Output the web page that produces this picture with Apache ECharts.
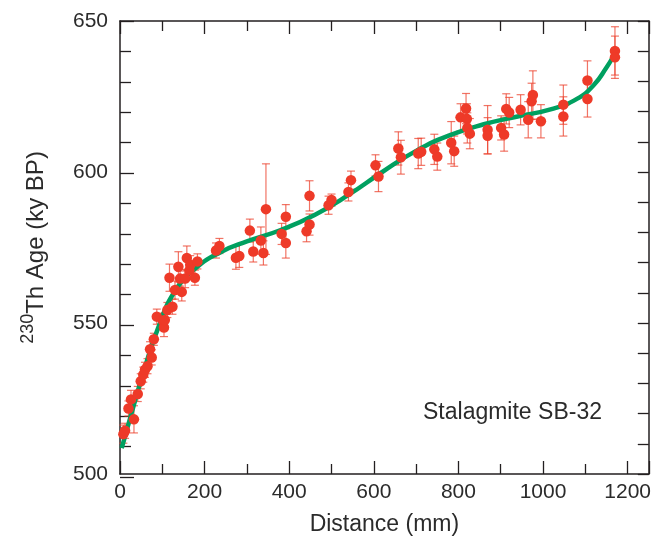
<!DOCTYPE html>
<html>
<head>
<meta charset="utf-8">
<script src="https://cdn.jsdelivr.net/npm/echarts@6/dist/echarts.min.js"></script>
<style>
html,body{margin:0;padding:0;background:#fff;}
#chart{width:654px;height:541px;}
</style>
</head>
<body>
<div id="chart"></div>
<script>
// Measured U-Th dates along the stalagmite growth axis
const distance = [8, 12, 20, 26, 33, 42, 49, 55, 59, 65, 71, 75, 80, 87, 102, 104, 106, 112, 117, 124, 130, 138, 142, 146, 154, 158, 164, 166, 177, 183,
  227, 235, 274, 282, 307, 315, 333, 339, 345, 382, 392, 392, 441, 448, 448, 493, 500, 540, 546, 604, 611,
  658, 664, 705, 712, 743, 750, 783, 790, 805, 818, 820, 821, 827, 869, 869, 901, 908, 913, 920, 947, 965, 973, 976, 995,
  1048, 1048, 1105, 1105, 1170, 1170];
const age = [513.2, 514.3, 521.7, 524.7, 518.1, 526.5, 530.7, 532.9, 534.5, 535.7, 541.3, 538.6, 544.6, 552.1, 550.7, 548.5, 551.0, 554.3, 565.0, 555.4, 560.9, 568.6, 564.7, 560.3, 564.7, 571.5, 567.4, 569.3, 565.0, 570.4,
  574.0, 575.5, 571.6, 572.2, 580.6, 573.7, 577.3, 573.2, 587.7, 579.5, 585.2, 576.5, 580.4, 582.6, 592.1, 589.0, 590.7, 593.4, 597.3, 602.2, 598.5,
  607.8, 604.9, 606.1, 606.7, 607.5, 605.1, 609.7, 606.9, 618.1, 621.0, 617.6, 614.6, 612.7, 614.0, 612.0, 614.6, 612.4, 620.9, 619.7, 620.6, 617.3, 623.4, 625.5, 616.8,
  622.3, 618.4, 630.3, 624.2, 640.1, 638.0];
const ageErr = [3, 2.5, 2.5, 3, 4.5, 2.5, 2.5, 2.5, 2.5, 2.5, 2.5, 2.5, 2, 2.5, 2.5, 3, 2.5, 2.5, 4.5, 2.5, 3, 5, 2.5, 3, 3, 4, 3, 3, 2.5, 2.5,
  2.5, 2.5, 3.8, 3.8, 3.8, 3.5, 4.5, 4, 15, 3.5, 4, 5, 3.5, 3.5, 5, 3, 2, 3, 3, 3.5, 5,
  5.5, 5.6, 5, 4.5, 5, 4.5, 7, 5, 4.5, 5, 5, 5, 5, 8, 6, 4, 5.5, 5, 5, 5, 6, 6, 8, 5.5,
  6.5, 6.5, 6.5, 6, 8, 7];
// Age model curve
const curveDist = [4, 28, 55, 90, 130, 180, 240, 300, 380, 460, 540, 620, 700, 780, 860, 940, 1020, 1080, 1120, 1150, 1165];
const curveAge = [508.6, 520.5, 533.5, 548.3, 560.6, 568.3, 573.6, 577.0, 580.8, 585.8, 592.4, 600.0, 607.0, 612.2, 615.8, 618.4, 620.8, 624.2, 628.8, 634.6, 638.0];
const xTicks = [0, 200, 400, 600, 800, 1000, 1200];
const yTicks = [500, 550, 600, 650];

const pts = distance.map((d, i) => [d, age[i], ageErr[i]]);
const curve = curveDist.map((d, i) => [d, curveAge[i]]);

const axisCol = '#231f20';
const labelCol = '#2b2b2b';
const font = 'Liberation Sans, Arial, sans-serif';
const gridLeft = 120, gridRight = 5, gridTop = 21, gridBottom = 64;

function tickCfg(len, inside) { return {show: true, inside: inside, length: len, lineStyle: {color: axisCol, width: 1.3}}; }
function minorCfg(n, len) { return {show: true, splitNumber: n, length: len, lineStyle: {color: axisCol, width: 1.3}}; }
function lineCfg() { return {show: true, onZero: false, lineStyle: {color: axisCol, width: 1.5}}; }

const chart = echarts.init(document.getElementById('chart'), null, {renderer: 'canvas'});
chart.setOption({
  animation: false,
  backgroundColor: '#fff',
  grid: [
    {left: gridLeft, right: gridRight, top: gridTop, bottom: gridBottom, containLabel: false},
    // helper grid sharing the plot rectangle; carries the inward tick marks of the left frame edge
    {left: gridLeft, right: gridRight, top: gridTop, bottom: gridBottom, containLabel: false}
  ],
  xAxis: [
    {
      type: 'value', min: 0, max: 1250, interval: 200, position: 'bottom',
      splitLine: {show: false}, axisLine: lineCfg(), axisTick: tickCfg(13, true), minorTick: minorCfg(2, 10),
      axisLabel: {show: true, color: labelCol, fontSize: 21, fontFamily: font, margin: 8,
        formatter: v => xTicks.includes(v) ? String(v) : ''},
      name: 'Distance (mm)', nameLocation: 'middle', nameGap: 39,
      nameTextStyle: {color: labelCol, fontSize: 23, fontFamily: font}
    },
    {
      type: 'value', min: 0, max: 1250, interval: 200, position: 'top',
      splitLine: {show: false}, axisLine: lineCfg(), axisTick: tickCfg(13, true), minorTick: minorCfg(2, 10),
      axisLabel: {show: false}
    },
    {type: 'value', gridIndex: 1, min: 0, max: 1, show: false}
  ],
  yAxis: [
    {
      type: 'value', min: 500, max: 650, interval: 50, position: 'left',
      splitLine: {show: false}, axisLine: lineCfg(), axisTick: {show: false}, minorTick: {show: false},
      axisLabel: {show: true, color: labelCol, fontSize: 21, fontFamily: font, margin: 12,
        formatter: v => yTicks.includes(v) ? String(v) : ''},
      name: '{sup|230}{main|Th Age (ky BP)}', nameLocation: 'middle', nameGap: 72, nameRotate: 90,
      nameTextStyle: {
        color: labelCol, fontFamily: font,
        rich: {
          sup: {fontSize: 18, fontFamily: font, color: labelCol, verticalAlign: 'top', lineHeight: 29},
          main: {fontSize: 24, fontFamily: font, color: labelCol, verticalAlign: 'bottom', lineHeight: 29}
        }
      }
    },
    {
      type: 'value', min: 500, max: 650, interval: 50, position: 'right',
      splitLine: {show: false}, axisLine: lineCfg(), axisTick: tickCfg(11, true), minorTick: minorCfg(5, 11),
      axisLabel: {show: false}
    },
    {
      type: 'value', gridIndex: 1, min: 500, max: 650, interval: 50, position: 'right',
      splitLine: {show: false}, axisLine: {show: false}, axisTick: tickCfg(14, false), minorTick: minorCfg(5, 11),
      axisLabel: {show: false}
    }
  ],
  graphic: [{
    type: 'text', left: 423, top: 401,
    style: {text: 'Stalagmite SB-32', fill: labelCol, fontSize: 23, fontFamily: font}
  }],
  series: [
    {
      type: 'custom', name: 'err', data: pts, z: 1,
      encode: {x: 0, y: 1},
      renderItem: function (params, api) {
        const x = api.value(0), y = api.value(1), e = api.value(2);
        const t = api.coord([x, y + e]);
        const b = api.coord([x, y - e]);
        const hw = 4;
        const st = {stroke: 'rgba(236,70,50,0.75)', lineWidth: 1.2, fill: null};
        return {
          type: 'group',
          children: [
            {type: 'line', shape: {x1: t[0], y1: t[1], x2: b[0], y2: b[1]}, style: st},
            {type: 'line', shape: {x1: t[0] - hw, y1: t[1], x2: t[0] + hw, y2: t[1]}, style: st},
            {type: 'line', shape: {x1: b[0] - hw, y1: b[1], x2: b[0] + hw, y2: b[1]}, style: st}
          ]
        };
      }
    },
    {
      type: 'line', name: 'curve', data: curve, smooth: 0.5, showSymbol: false, z: 2,
      lineStyle: {color: '#00a060', width: 4.5}
    },
    {
      type: 'scatter', name: 'pts', data: pts.map(p => [p[0], p[1]]), z: 3,
      symbol: 'circle', symbolSize: 10.5,
      itemStyle: {color: '#ee3a28', opacity: 1}
    }
  ]
});
</script>
</body>
</html>
